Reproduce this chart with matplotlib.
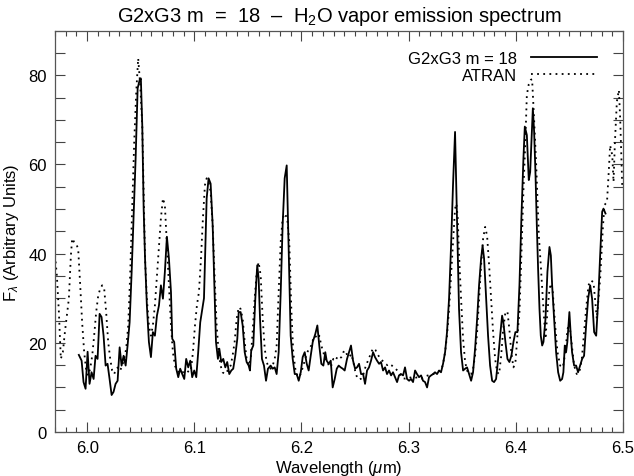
import matplotlib
matplotlib.use('Agg')
import matplotlib.pyplot as plt
from matplotlib.ticker import MultipleLocator

plt.rcParams['font.family'] = ['Liberation Sans', 'DejaVu Sans']
plt.rcParams['mathtext.fontset'] = 'custom'
plt.rcParams['mathtext.rm'] = 'Liberation Sans'
plt.rcParams['mathtext.it'] = 'Liberation Sans:italic'

# G2xG3 m = 18 spectrum
solid_wl = [5.9922, 5.9948, 5.9966, 5.9985, 6.0004, 6.0022, 6.0041, 6.0060, 6.0078, 6.0097,
            6.0116, 6.0134, 6.0153, 6.0172, 6.0190, 6.0209, 6.0228, 6.0246, 6.0265, 6.0284,
            6.0303, 6.0321, 6.0340, 6.0359, 6.0377, 6.0396, 6.0415, 6.0433, 6.0452, 6.0471,
            6.0490, 6.0501, 6.0514, 6.0527, 6.0540, 6.0557, 6.0576, 6.0595, 6.0613, 6.0632,
            6.0651, 6.0670, 6.0688, 6.0707, 6.0725, 6.0744, 6.0763, 6.0782, 6.0794, 6.0812,
            6.0831, 6.0850, 6.0868, 6.0887, 6.0906, 6.0924, 6.0943, 6.0962, 6.0980, 6.0999,
            6.1018, 6.1036, 6.1055, 6.1074, 6.1090, 6.1100, 6.1115, 6.1133, 6.1152, 6.1171,
            6.1189, 6.1202, 6.1220, 6.1233, 6.1251, 6.1270, 6.1289, 6.1307, 6.1326, 6.1345,
            6.1363, 6.1382, 6.1401, 6.1414, 6.1432, 6.1451, 6.1470, 6.1488, 6.1507, 6.1519,
            6.1531, 6.1550, 6.1569, 6.1587, 6.1600, 6.1613, 6.1631, 6.1650, 6.1669, 6.1687,
            6.1712, 6.1731, 6.1750, 6.1768, 6.1787, 6.1806, 6.1824, 6.1843, 6.1862, 6.1874,
            6.1886, 6.1899, 6.1918, 6.1937, 6.1955, 6.1974, 6.1993, 6.2011, 6.2030, 6.2049,
            6.2067, 6.2086, 6.2105, 6.2129, 6.2148, 6.2166, 6.2185, 6.2204, 6.2222, 6.2235,
            6.2254, 6.2273, 6.2291, 6.2310, 6.2329, 6.2347, 6.2366, 6.2385, 6.2403, 6.2425,
            6.2444, 6.2462, 6.2481, 6.2500, 6.2518, 6.2537, 6.2556, 6.2575, 6.2593, 6.2612,
            6.2630, 6.2649, 6.2668, 6.2686, 6.2705, 6.2724, 6.2742, 6.2761, 6.2780, 6.2798,
            6.2817, 6.2836, 6.2854, 6.2873, 6.2892, 6.2910, 6.2929, 6.2948, 6.2966, 6.2985,
            6.3004, 6.3022, 6.3041, 6.3060, 6.3078, 6.3097, 6.3116, 6.3134, 6.3153, 6.3172,
            6.3190, 6.3209, 6.3228, 6.3246, 6.3265, 6.3284, 6.3302, 6.3321, 6.3340, 6.3358,
            6.3377, 6.3396, 6.3414, 6.3433, 6.3446, 6.3458, 6.3470, 6.3489, 6.3508, 6.3527,
            6.3545, 6.3564, 6.3583, 6.3601, 6.3620, 6.3639, 6.3657, 6.3676, 6.3690, 6.3704,
            6.3723, 6.3741, 6.3760, 6.3779, 6.3797, 6.3816, 6.3835, 6.3854, 6.3872, 6.3884,
            6.3903, 6.3922, 6.3940, 6.3959, 6.3978, 6.3996, 6.4015, 6.4034, 6.4052, 6.4071,
            6.4084, 6.4103, 6.4121, 6.4134, 6.4146, 6.4159, 6.4171, 6.4184, 6.4196, 6.4208,
            6.4221, 6.4233, 6.4246, 6.4258, 6.4277, 6.4295, 6.4314, 6.4327, 6.4339, 6.4358,
            6.4376, 6.4395, 6.4414, 6.4432, 6.4444, 6.4457, 6.4469, 6.4481, 6.4500, 6.4513,
            6.4525, 6.4544, 6.4563, 6.4581, 6.4600, 6.4619, 6.4637, 6.4656, 6.4675, 6.4694,
            6.4712, 6.4731, 6.4750, 6.4768, 6.4787, 6.4806, 6.4818, 6.4837]
solid_flux = [17.3, 16.0, 11.2, 9.7, 18.0, 10.8, 13.4, 11.9, 17.1, 16.4,
              26.5, 25.8, 21.6, 14.9, 15.3, 11.9, 8.3, 9.0, 10.8, 11.5,
              19.0, 14.9, 17.1, 14.9, 19.4, 24.6, 35.9, 48.6, 61.3, 77.1,
              79.0, 79.3, 68.8, 50.1, 38.9, 28.4, 20.2, 16.8, 22.4, 21.6,
              26.1, 28.4, 32.9, 29.9, 35.9, 43.8, 38.9, 31.4, 20.9, 20.2,
              14.2, 12.3, 14.2, 13.0, 11.9, 16.4, 14.5, 16.0, 12.3, 13.8,
              12.3, 17.9, 24.6, 27.5, 30.0, 39.0, 52.4, 56.9, 55.7, 46.4,
              31.4, 20.2, 16.4, 18.7, 15.7, 16.4, 14.5, 15.7, 13.0, 13.8,
              14.2, 17.1, 20.9, 26.9, 26.9, 23.9, 17.9, 15.7, 14.9, 13.8,
              18.3, 19.4, 29.9, 37.4, 34.4, 25.4, 16.4, 14.9, 11.5, 14.2,
              14.9, 14.2, 14.5, 13.0, 17.9, 31.4, 46.4, 56.9, 59.8, 47.9,
              35.1, 21.6, 16.4, 13.0, 13.0, 11.5, 13.4, 16.8, 17.9, 15.3,
              13.8, 17.1, 20.2, 22.0, 23.9, 19.4, 15.3, 14.9, 17.9, 16.0,
              15.3, 16.0, 10.0, 11.9, 14.2, 14.9, 14.5, 14.2, 13.8, 16.4,
              17.9, 19.4, 16.0, 14.2, 14.5, 15.3, 13.0, 13.0, 10.8, 13.8,
              14.5, 16.0, 17.9, 16.8, 16.0, 15.3, 15.7, 13.8, 14.5, 13.0,
              13.8, 12.7, 13.4, 12.3, 11.2, 12.7, 13.0, 12.7, 14.5, 11.9,
              11.5, 11.9, 11.2, 13.8, 13.0, 12.3, 12.7, 11.5, 11.2, 10.0,
              12.3, 12.7, 13.0, 13.4, 13.0, 13.8, 13.4, 15.3, 17.9, 22.4,
              29.9, 41.9, 55.4, 67.3, 53.8, 40.4, 27.6, 17.9, 13.8, 14.2,
              14.5, 13.0, 11.5, 13.4, 18.7, 25.4, 32.9, 38.9, 41.8, 38.9,
              29.9, 21.6, 14.9, 11.5, 11.2, 11.9, 16.4, 21.6, 26.1, 24.6,
              20.2, 16.4, 15.7, 17.1, 20.2, 22.4, 22.4, 32.9, 47.9, 61.3,
              68.5, 66.6, 56.5, 58.3, 65.1, 72.6, 67.3, 57.6, 46.4, 36.6,
              27.6, 21.6, 19.4, 20.2, 25.4, 35.9, 41.5, 39.6, 32.9, 25.4,
              17.9, 13.4, 11.5, 11.9, 13.4, 19.4, 17.9, 20.2, 26.9, 21.6,
              17.9, 14.9, 14.9, 13.4, 14.9, 16.4, 17.1, 23.9, 29.9, 32.9,
              29.9, 22.4, 21.6, 29.1, 39.6, 49.4, 50.1, 49.0]

# ATRAN model
atran_wl = [5.9700, 5.9717, 5.9736, 5.9754, 5.9773, 5.9792, 5.9810, 5.9829, 5.9848, 5.9860,
            5.9879, 5.9897, 5.9916, 5.9935, 5.9953, 5.9972, 5.9991, 6.0009, 6.0028, 6.0047,
            6.0065, 6.0084, 6.0103, 6.0121, 6.0140, 6.0159, 6.0177, 6.0196, 6.0215, 6.0233,
            6.0252, 6.0271, 6.0289, 6.0308, 6.0327, 6.0345, 6.0364, 6.0383, 6.0401, 6.0420,
            6.0439, 6.0458, 6.0476, 6.0495, 6.0514, 6.0527, 6.0540, 6.0557, 6.0576, 6.0595,
            6.0613, 6.0632, 6.0651, 6.0670, 6.0688, 6.0707, 6.0725, 6.0744, 6.0763, 6.0782,
            6.0800, 6.0819, 6.0838, 6.0856, 6.0875, 6.0894, 6.0912, 6.0931, 6.0950, 6.0968,
            6.0987, 6.1006, 6.1024, 6.1043, 6.1062, 6.1080, 6.1099, 6.1115, 6.1133, 6.1152,
            6.1171, 6.1189, 6.1208, 6.1227, 6.1245, 6.1264, 6.1283, 6.1301, 6.1320, 6.1339,
            6.1357, 6.1376, 6.1395, 6.1414, 6.1432, 6.1451, 6.1470, 6.1488, 6.1507, 6.1526,
            6.1544, 6.1563, 6.1582, 6.1600, 6.1619, 6.1638, 6.1657, 6.1675, 6.1694, 6.1712,
            6.1731, 6.1750, 6.1768, 6.1787, 6.1806, 6.1824, 6.1843, 6.1867, 6.1886, 6.1905,
            6.1923, 6.1942, 6.1961, 6.1979, 6.1998, 6.2017, 6.2035, 6.2054, 6.2073, 6.2091,
            6.2110, 6.2129, 6.2148, 6.2166, 6.2185, 6.2204, 6.2222, 6.2241, 6.2260, 6.2278,
            6.2297, 6.2316, 6.2334, 6.2353, 6.2372, 6.2390, 6.2409, 6.2428, 6.2446, 6.2465,
            6.2484, 6.2503, 6.2522, 6.2540, 6.2559, 6.2578, 6.2596, 6.2615, 6.2634, 6.2652,
            6.2671, 6.2690, 6.2708, 6.2727, 6.2746, 6.2764, 6.2783, 6.2802, 6.2820, 6.2839,
            6.2858, 6.2876, 6.2895, 6.2914, 6.2932, 6.2951, 6.2970, 6.3007, 6.3044, 6.3082,
            6.3119, 6.3156, 6.3194, 6.3231, 6.3268, 6.3306, 6.3321, 6.3340, 6.3358, 6.3377,
            6.3396, 6.3414, 6.3433, 6.3446, 6.3458, 6.3470, 6.3489, 6.3508, 6.3527, 6.3545,
            6.3564, 6.3583, 6.3601, 6.3620, 6.3639, 6.3657, 6.3676, 6.3695, 6.3714, 6.3732,
            6.3751, 6.3770, 6.3788, 6.3807, 6.3826, 6.3844, 6.3863, 6.3882, 6.3903, 6.3922,
            6.3940, 6.3959, 6.3978, 6.3996, 6.4015, 6.4034, 6.4052, 6.4071, 6.4090, 6.4103,
            6.4121, 6.4140, 6.4152, 6.4171, 6.4190, 6.4215, 6.4233, 6.4258, 6.4277, 6.4295,
            6.4314, 6.4327, 6.4345, 6.4367, 6.4389, 6.4414, 6.4439, 6.4463, 6.4482, 6.4500,
            6.4523, 6.4544, 6.4569, 6.4593, 6.4616, 6.4637, 6.4656, 6.4678, 6.4700, 6.4725,
            6.4756, 6.4787, 6.4812, 6.4827, 6.4851, 6.4869, 6.4880, 6.4900, 6.4912, 6.4925,
            6.4943, 6.4962, 6.4974, 6.4993]
atran_flux = [39.6, 35.1, 26.9, 16.4, 17.9, 22.4, 26.1, 29.9, 39.6, 43.4,
              42.6, 42.2, 41.1, 32.9, 24.6, 17.9, 13.8, 12.7, 14.2, 17.1,
              21.6, 26.9, 30.6, 32.1, 32.9, 32.1, 26.9, 20.2, 16.4, 13.8,
              13.0, 14.2, 14.5, 13.8, 14.9, 16.4, 18.7, 23.9, 35.1, 50.1,
              65.1, 76.3, 83.8, 77.8, 68.8, 53.8, 38.9, 29.9, 23.9, 21.6,
              23.9, 28.4, 35.1, 41.9, 47.9, 52.4, 50.9, 41.9, 32.9, 23.9,
              17.9, 14.9, 13.8, 13.4, 13.0, 13.4, 13.8, 13.8, 13.4, 13.8,
              17.9, 23.9, 28.4, 31.4, 38.9, 47.9, 55.4, 56.9, 56.1, 53.8,
              46.4, 35.1, 23.9, 17.9, 14.9, 13.4, 13.0, 13.4, 14.2, 14.9,
              17.1, 20.2, 25.4, 28.0, 27.6, 25.4, 20.2, 16.4, 14.9, 16.4,
              22.4, 29.9, 35.9, 38.1, 35.1, 25.4, 18.7, 15.7, 14.5, 14.2,
              14.9, 16.4, 19.4, 31.4, 42.6, 47.9, 49.0, 47.9, 42.6, 27.6,
              17.9, 14.2, 12.7, 12.3, 13.4, 14.9, 16.4, 17.9, 18.7, 19.4,
              20.9, 21.6, 20.9, 21.6, 19.4, 17.9, 16.4, 16.0, 14.5, 14.9,
              16.4, 16.0, 16.8, 16.4, 16.8, 17.9, 18.3, 17.1, 16.8, 17.5,
              15.7, 13.4, 12.0, 11.8, 12.0, 13.0, 14.5, 15.7, 16.8, 18.0,
              18.8, 18.4, 17.5, 16.8, 16.2, 15.8, 15.3, 15.0, 15.3, 15.0,
              14.6, 14.2, 13.8, 13.2, 12.6, 12.0, 12.0, 12.3, 12.0, 12.3,
              12.0, 12.5, 12.8, 13.0, 13.4, 14.0, 15.3, 17.9, 21.6, 27.6,
              35.1, 42.6, 50.1, 51.2, 48.0, 40.0, 30.0, 20.9, 15.7, 13.8,
              13.0, 13.0, 14.2, 17.1, 22.4, 29.9, 37.4, 43.4, 46.0, 44.0,
              37.4, 29.9, 22.4, 16.4, 13.4, 13.0, 17.0, 23.0, 26.9, 27.0,
              23.0, 17.5, 14.5, 15.5, 21.6, 26.9, 39.6, 54.0, 66.0, 75.6,
              78.0, 79.0, 79.1, 70.0, 60.0, 44.0, 37.4, 27.6, 20.9, 27.0,
              32.0, 33.3, 31.4, 23.9, 17.9, 14.9, 14.5, 17.9, 23.1, 24.3,
              19.4, 14.9, 13.0, 13.4, 16.4, 22.4, 27.6, 32.9, 34.0, 33.6,
              25.4, 34.4, 45.6, 50.9, 51.6, 59.1, 64.3, 62.1, 56.1, 65.1,
              74.1, 76.7, 70.3, 55.4]

fig = plt.figure(figsize=(6.34, 4.77), dpi=100)
ax = fig.add_axes([0.0868, 0.0922, 0.8958, 0.8413])

ax.plot(solid_wl, solid_flux, color='black', lw=1.3, label='G2xG3 m = 18')
ax.plot(atran_wl, atran_flux, color='black', lw=1.3, linestyle=(0, (1, 2.4)), label='ATRAN')

ax.set_xlim(5.97, 6.5)
ax.set_ylim(0, 90)
ax.xaxis.set_major_locator(MultipleLocator(0.1))
ax.xaxis.set_minor_locator(MultipleLocator(0.01))
ax.yaxis.set_major_locator(MultipleLocator(20))
ax.yaxis.set_minor_locator(MultipleLocator(5))
ax.tick_params(which='both', direction='in', top=True, right=True, colors='#444444',
               labelcolor='black', labelsize=12, width=0.8)
ax.tick_params(which='major', length=7, pad=6)
ax.tick_params(axis='x', which='minor', length=3.5)
ax.tick_params(axis='y', which='minor', length=7)
for s in ax.spines.values():
    s.set_color('#555555')
    s.set_linewidth(0.9)

ax.set_title('G2xG3 m  =  18  \u2013  H$_2$O vapor emission spectrum', fontsize=14.5, pad=7)
ax.set_xlabel('Wavelength ($\\mu$m)', fontsize=12, labelpad=2)
ax.set_ylabel('F$_\\lambda$ (Arbitrary Units)', fontsize=12, labelpad=5)

ax.legend(loc='upper right', bbox_to_anchor=(0.955, 0.95), frameon=False, markerfirst=False,
          fontsize=12, handlelength=4.0, handletextpad=0.8, labelspacing=0.15, borderaxespad=0,
          borderpad=0)

fig.savefig('out.png', dpi=100)
